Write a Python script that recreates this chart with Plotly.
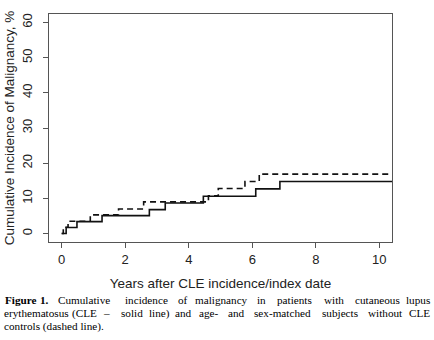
import plotly.graph_objects as go

# Data
cle_years = [0, 0.14, 0.48, 1.27, 2.76, 3.26, 4.46, 6.11, 6.87, 10.5]
cle_pct = [0, 1.7, 3.4, 5.1, 6.8, 8.7, 10.6, 12.7, 14.8, 14.8]
ctrl_years = [0, 0.05, 0.2, 0.9, 1.79, 2.58, 4.62, 4.93, 5.77, 6.22, 10.5]
ctrl_pct = [0, 1.8, 3.5, 5.3, 7.0, 9.0, 10.7, 12.8, 14.8, 16.9, 16.9]
x_ticks = [0, 2, 4, 6, 8, 10]
y_ticks = [0, 10, 20, 30, 40, 50, 60]

W, H = 434, 340
ML, MR, MT, MB = 49, 42, 14, 98

fig = go.Figure()
fig.add_trace(go.Scatter(x=ctrl_years, y=ctrl_pct, mode="lines", line_shape="hv",
                         line=dict(color="#111111", width=1.6, dash="6px,4px"),
                         name="Controls"))
fig.add_trace(go.Scatter(x=cle_years, y=cle_pct, mode="lines", line_shape="hv",
                         line=dict(color="#111111", width=1.6),
                         name="CLE"))

axis_common = dict(showline=True, mirror=True, linecolor="#555555", linewidth=1,
                   ticks="outside", ticklen=5, tickcolor="#555555", tickwidth=1,
                   showgrid=False, zeroline=False, automargin=False,
                   tickfont=dict(family="Liberation Sans, Arial", size=13, color="#222222"))

fig.update_xaxes(range=[-0.4, 10.4], tickvals=x_ticks, **axis_common,
                 title=dict(text="Years after CLE incidence/index date",
                            font=dict(family="Liberation Sans, Arial", size=13.5, color="#222222"),
                            standoff=12))
fig.update_yaxes(range=[-2.4, 62.4], tickvals=y_ticks, tickangle=-90, ticklabelstandoff=6,
                 **axis_common,
                 title=dict(text="Cumulative Incidence of Malignancy, %",
                            font=dict(family="Liberation Sans, Arial", size=13.5, color="#222222"),
                            standoff=2))

# Justified caption: words placed at measured positions (anchor, x in pixels)
line1 = [("<b>Figure</b>", "left", 3), ("<b>1.</b>", "center", 44), ("Cumulative", "center", 84),
         ("incidence", "center", 146), ("of", "center", 183), ("malignancy", "center", 221.5),
         ("in", "center", 261), ("patients", "center", 294), ("with", "center", 333.5),
         ("cutaneous", "center", 377.5), ("lupus", "right", 432)]
line2 = [("erythematosus", "left", 2), ("(CLE", "center", 84), ("–", "center", 106.5),
         ("solid", "center", 131.5), ("line)", "center", 159), ("and", "center", 183.5),
         ("age-", "center", 209), ("and", "center", 236.5), ("sex-matched", "center", 282.5),
         ("subjects", "center", 340), ("without", "center", 385), ("CLE", "right", 432)]
line3 = [("controls (dashed line).", "left", 2)]

pw = W - ML - MR
ph = H - MT - MB
anns = []
for words, ypix in [(line1, 300), (line2, 313), (line3, 326)]:
    for w, anchor, xpix in words:
        anns.append(dict(text=w, xref="paper", yref="paper",
                         x=(xpix - ML) / pw, y=(H - MB - ypix) / ph,
                         xanchor=anchor, yanchor="middle", showarrow=False,
                         font=dict(family="Liberation Serif, Times New Roman", size=11.2,
                                   color="#000000")))
fig.update_layout(annotations=anns)

fig.update_layout(width=W, height=H, margin=dict(l=ML, r=MR, t=MT, b=MB),
                  paper_bgcolor="white", plot_bgcolor="white", showlegend=False)

fig.write_html("out.html")
